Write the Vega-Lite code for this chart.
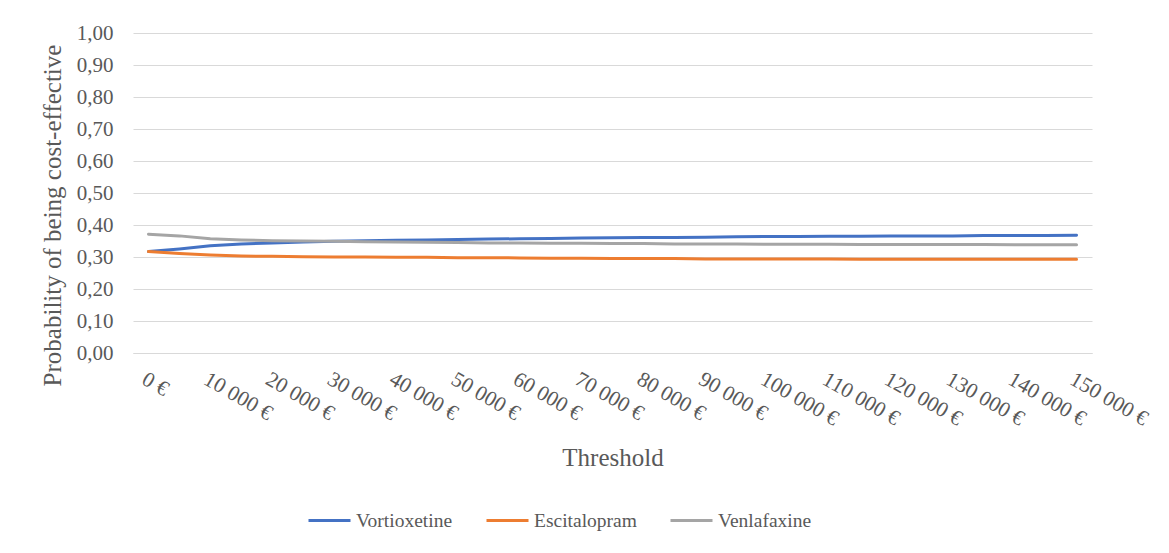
{
  "$schema": "https://vega.github.io/schema/vega-lite/v6.json",
  "width": 959,
  "height": 320,
  "autosize": {"type": "none"},
  "padding": {"left": 133, "top": 33, "right": 77, "bottom": 200},
  "background": "white",
  "config": {
    "locale": {"number": {"decimal": ",", "thousands": " ", "grouping": [3], "currency": ["", " €"]}},
    "view": {"stroke": null},
    "font": "Liberation Serif"
  },
  "data": {
    "values": [
      {"t": 0, "d": "Vortioxetine", "p": 0.317},
      {"t": 5000, "d": "Vortioxetine", "p": 0.325},
      {"t": 10000, "d": "Vortioxetine", "p": 0.335},
      {"t": 15000, "d": "Vortioxetine", "p": 0.341},
      {"t": 20000, "d": "Vortioxetine", "p": 0.344},
      {"t": 25000, "d": "Vortioxetine", "p": 0.347},
      {"t": 30000, "d": "Vortioxetine", "p": 0.349},
      {"t": 35000, "d": "Vortioxetine", "p": 0.351},
      {"t": 40000, "d": "Vortioxetine", "p": 0.352},
      {"t": 45000, "d": "Vortioxetine", "p": 0.353},
      {"t": 50000, "d": "Vortioxetine", "p": 0.355},
      {"t": 55000, "d": "Vortioxetine", "p": 0.356},
      {"t": 60000, "d": "Vortioxetine", "p": 0.357},
      {"t": 65000, "d": "Vortioxetine", "p": 0.358},
      {"t": 70000, "d": "Vortioxetine", "p": 0.359},
      {"t": 75000, "d": "Vortioxetine", "p": 0.360},
      {"t": 80000, "d": "Vortioxetine", "p": 0.361},
      {"t": 85000, "d": "Vortioxetine", "p": 0.361},
      {"t": 90000, "d": "Vortioxetine", "p": 0.362},
      {"t": 95000, "d": "Vortioxetine", "p": 0.363},
      {"t": 100000, "d": "Vortioxetine", "p": 0.364},
      {"t": 105000, "d": "Vortioxetine", "p": 0.364},
      {"t": 110000, "d": "Vortioxetine", "p": 0.365},
      {"t": 115000, "d": "Vortioxetine", "p": 0.365},
      {"t": 120000, "d": "Vortioxetine", "p": 0.366},
      {"t": 125000, "d": "Vortioxetine", "p": 0.366},
      {"t": 130000, "d": "Vortioxetine", "p": 0.366},
      {"t": 135000, "d": "Vortioxetine", "p": 0.367},
      {"t": 140000, "d": "Vortioxetine", "p": 0.367},
      {"t": 145000, "d": "Vortioxetine", "p": 0.367},
      {"t": 150000, "d": "Vortioxetine", "p": 0.368},
      {"t": 0, "d": "Escitalopram", "p": 0.317},
      {"t": 5000, "d": "Escitalopram", "p": 0.311},
      {"t": 10000, "d": "Escitalopram", "p": 0.306},
      {"t": 15000, "d": "Escitalopram", "p": 0.303},
      {"t": 20000, "d": "Escitalopram", "p": 0.302},
      {"t": 25000, "d": "Escitalopram", "p": 0.301},
      {"t": 30000, "d": "Escitalopram", "p": 0.300},
      {"t": 35000, "d": "Escitalopram", "p": 0.300},
      {"t": 40000, "d": "Escitalopram", "p": 0.299},
      {"t": 45000, "d": "Escitalopram", "p": 0.299},
      {"t": 50000, "d": "Escitalopram", "p": 0.298},
      {"t": 55000, "d": "Escitalopram", "p": 0.298},
      {"t": 60000, "d": "Escitalopram", "p": 0.297},
      {"t": 65000, "d": "Escitalopram", "p": 0.296},
      {"t": 70000, "d": "Escitalopram", "p": 0.296},
      {"t": 75000, "d": "Escitalopram", "p": 0.295},
      {"t": 80000, "d": "Escitalopram", "p": 0.295},
      {"t": 85000, "d": "Escitalopram", "p": 0.295},
      {"t": 90000, "d": "Escitalopram", "p": 0.294},
      {"t": 95000, "d": "Escitalopram", "p": 0.294},
      {"t": 100000, "d": "Escitalopram", "p": 0.294},
      {"t": 105000, "d": "Escitalopram", "p": 0.294},
      {"t": 110000, "d": "Escitalopram", "p": 0.294},
      {"t": 115000, "d": "Escitalopram", "p": 0.293},
      {"t": 120000, "d": "Escitalopram", "p": 0.293},
      {"t": 125000, "d": "Escitalopram", "p": 0.293},
      {"t": 130000, "d": "Escitalopram", "p": 0.293},
      {"t": 135000, "d": "Escitalopram", "p": 0.293},
      {"t": 140000, "d": "Escitalopram", "p": 0.293},
      {"t": 145000, "d": "Escitalopram", "p": 0.293},
      {"t": 150000, "d": "Escitalopram", "p": 0.293},
      {"t": 0, "d": "Venlafaxine", "p": 0.371},
      {"t": 5000, "d": "Venlafaxine", "p": 0.366},
      {"t": 10000, "d": "Venlafaxine", "p": 0.357},
      {"t": 15000, "d": "Venlafaxine", "p": 0.353},
      {"t": 20000, "d": "Venlafaxine", "p": 0.351},
      {"t": 25000, "d": "Venlafaxine", "p": 0.350},
      {"t": 30000, "d": "Venlafaxine", "p": 0.349},
      {"t": 35000, "d": "Venlafaxine", "p": 0.348},
      {"t": 40000, "d": "Venlafaxine", "p": 0.347},
      {"t": 45000, "d": "Venlafaxine", "p": 0.346},
      {"t": 50000, "d": "Venlafaxine", "p": 0.345},
      {"t": 55000, "d": "Venlafaxine", "p": 0.344},
      {"t": 60000, "d": "Venlafaxine", "p": 0.344},
      {"t": 65000, "d": "Venlafaxine", "p": 0.343},
      {"t": 70000, "d": "Venlafaxine", "p": 0.343},
      {"t": 75000, "d": "Venlafaxine", "p": 0.342},
      {"t": 80000, "d": "Venlafaxine", "p": 0.342},
      {"t": 85000, "d": "Venlafaxine", "p": 0.341},
      {"t": 90000, "d": "Venlafaxine", "p": 0.341},
      {"t": 95000, "d": "Venlafaxine", "p": 0.341},
      {"t": 100000, "d": "Venlafaxine", "p": 0.340},
      {"t": 105000, "d": "Venlafaxine", "p": 0.340},
      {"t": 110000, "d": "Venlafaxine", "p": 0.340},
      {"t": 115000, "d": "Venlafaxine", "p": 0.339},
      {"t": 120000, "d": "Venlafaxine", "p": 0.339},
      {"t": 125000, "d": "Venlafaxine", "p": 0.339},
      {"t": 130000, "d": "Venlafaxine", "p": 0.339},
      {"t": 135000, "d": "Venlafaxine", "p": 0.339},
      {"t": 140000, "d": "Venlafaxine", "p": 0.338},
      {"t": 145000, "d": "Venlafaxine", "p": 0.338},
      {"t": 150000, "d": "Venlafaxine", "p": 0.338}
    ]
  },
  "mark": {"type": "line", "strokeWidth": 3, "strokeCap": "round", "strokeJoin": "round"},
  "encoding": {
    "x": {
      "field": "t",
      "type": "quantitative",
      "scale": {"domain": [-2500, 152500], "nice": false, "zero": false},
      "axis": {
        "title": "Threshold",
        "values": [0, 10000, 20000, 30000, 40000, 50000, 60000, 70000, 80000, 90000, 100000, 110000, 120000, 130000, 140000, 150000],
        "format": "$,d",
        "grid": false,
        "ticks": false,
        "domainColor": "#d9d9d9",
        "domainWidth": 1,
        "labelAngle": 30,
        "labelAlign": "left",
        "labelBaseline": "top",
        "labelPadding": 15,
        "labelFont": "Liberation Serif",
        "labelFontSize": 21.5,
        "labelColor": "#595959",
        "labelOverlap": false,
        "labelFlush": false,
        "titleFont": "Liberation Serif",
        "titleFontSize": 25,
        "titleFontWeight": "normal",
        "titleColor": "#595959",
        "titleY": 104,
        "titleBaseline": "middle"
      }
    },
    "y": {
      "field": "p",
      "type": "quantitative",
      "scale": {"domain": [0, 1], "nice": false},
      "axis": {
        "title": "Probability of being cost-effective",
        "values": [0, 0.1, 0.2, 0.3, 0.4, 0.5, 0.6, 0.7, 0.8, 0.9, 1],
        "format": ".2f",
        "domain": false,
        "ticks": false,
        "gridColor": "#d9d9d9",
        "gridWidth": 1,
        "labelPadding": 20,
        "labelFont": "Liberation Serif",
        "labelFontSize": 21,
        "labelColor": "#595959",
        "titleFont": "Liberation Serif",
        "titleFontSize": 25,
        "titleFontWeight": "normal",
        "titleColor": "#595959",
        "titleX": -81,
        "titleY": 182,
        "titleBaseline": "middle",
        "titleAngle": -90
      }
    },
    "color": {
      "field": "d",
      "type": "nominal",
      "sort": ["Vortioxetine", "Escitalopram", "Venlafaxine"],
      "scale": {"domain": ["Vortioxetine", "Escitalopram", "Venlafaxine"], "range": ["#4472C4", "#ED7D31", "#A5A5A5"]},
      "legend": {
        "title": null,
        "orient": "none",
        "direction": "horizontal",
        "legendX": 174,
        "legendY": 465,
        "symbolType": "stroke",
        "symbolSize": 1764,
        "symbolStrokeWidth": 3,
        "labelFont": "Liberation Serif",
        "labelFontSize": 19.5,
        "labelColor": "#595959",
        "labelOffset": 4,
        "columnPadding": 27,
        "labelLimit": 300
      }
    },
    "order": {"field": "t", "type": "quantitative"}
  }
}
